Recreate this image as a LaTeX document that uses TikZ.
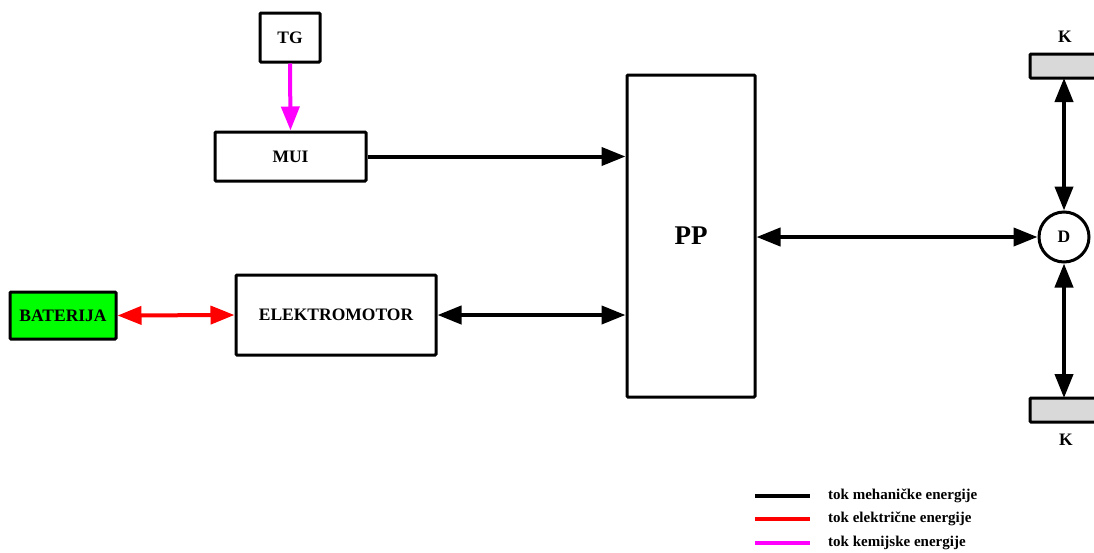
\documentclass[tikz,border=0pt]{standalone}
\usepackage{fontspec}
\setmainfont{Liberation Serif}
\usetikzlibrary{arrows.meta}
\definecolor{mag}{rgb}{1,0,1}
\definecolor{kgray}{rgb}{0.85,0.85,0.85}
\tikzset{
  blk/.style={draw=black, line width=3pt, rounded corners=1pt, font=\bfseries\fontsize{17.5}{20}\selectfont, inner sep=0pt},
  flow/.style={line width=4pt, -{Triangle[length=24pt,width=18pt]}},
  bflow/.style={line width=4pt, {Triangle[length=24pt,width=18pt]}-{Triangle[length=24pt,width=18pt]}},
  leg/.style={line width=4pt},
  legtxt/.style={anchor=west, font=\bfseries\fontsize{15}{17}\selectfont, inner sep=0pt},
}
\begin{document}
\begin{tikzpicture}[x=1pt,y=-1pt]
\useasboundingbox (0,0) rectangle (1094,552);
\clip (0,0) rectangle (1094,552);
\node[blk, minimum width=60pt, minimum height=49pt] (tg) at (290,37.5) {TG};
\node[blk, minimum width=151pt, minimum height=49pt] (mui) at (290.5,156.5) {MUI};
\node[blk, minimum width=128pt, minimum height=322pt, font=\bfseries\fontsize{27}{30}\selectfont] (pp) at (691,236) {PP};
\node[blk, minimum width=200pt, minimum height=80pt] (em) at (336,315) {ELEKTROMOTOR};
\node[blk, fill=green, minimum width=106pt, minimum height=47pt] (bat) at (63,315.5) {BATERIJA};
\node[circle, draw=black, line width=3pt, minimum size=50pt, inner sep=0pt, font=\bfseries\fontsize{17.5}{20}\selectfont] (d) at (1064,237) {D};
\node[blk, fill=kgray, minimum width=80pt, minimum height=24pt] (k1) at (1070,66) {};
\node[blk, fill=kgray, minimum width=80pt, minimum height=24pt] (k2) at (1070,410) {};
\node[font=\bfseries\fontsize{17.5}{20}\selectfont] (k1l) at (1065,37) {K};
\node[font=\bfseries\fontsize{17.5}{20}\selectfont] (k2l) at (1066,440) {K};
\coordinate (k1b) at (1064,78);
\coordinate (k2t) at (1064,398);

\draw[flow, mag] (tg.south) -- (mui.north);
\draw[flow] (mui.east) -- (mui.east -| pp.west);
\draw[bflow] (em.east) -- (em.east -| pp.west);
\draw[bflow, red] (bat.east) -- (em.west);
\draw[bflow] (pp.east |- d.west) -- (d.west);
\draw[bflow] (d.north) -- (k1b);
\draw[bflow] (d.south) -- (k2t);

\coordinate (l1a) at (755,496); \coordinate (l1b) at (810,496);
\coordinate (l2a) at (755,519); \coordinate (l2b) at (810,519);
\coordinate (l3a) at (755,543); \coordinate (l3b) at (810,543);
\draw[leg, black] (l1a) -- (l1b);
\draw[leg, red] (l2a) -- (l2b);
\draw[leg, mag] (l3a) -- (l3b);
\node[legtxt] (t1) at (828,496) {tok mehaničke energije};
\node[legtxt] (t2) at (828,519) {tok električne energije};
\node[legtxt] (t3) at (828,543) {tok kemijske energije};
\end{tikzpicture}
\end{document}
